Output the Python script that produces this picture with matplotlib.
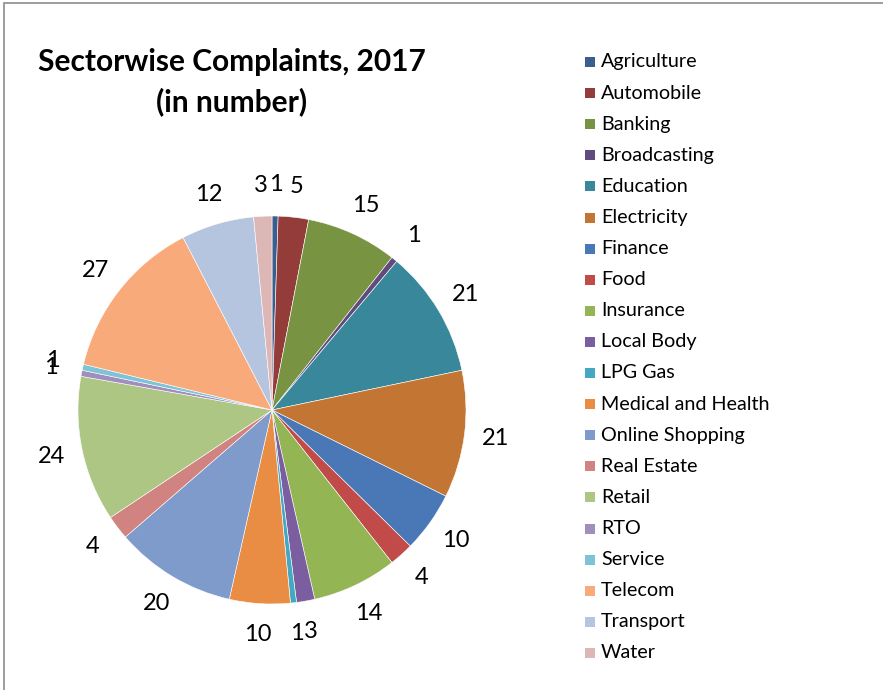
import matplotlib
matplotlib.use("Agg")
import matplotlib.pyplot as plt
from matplotlib.patches import Rectangle

sectors = ["Agriculture", "Automobile", "Banking", "Broadcasting", "Education",
           "Electricity", "Finance", "Food", "Insurance", "Local Body", "LPG Gas",
           "Medical and Health", "Online Shopping", "Real Estate", "Retail", "RTO",
           "Service", "Telecom", "Transport", "Water"]
complaints = [1, 5, 15, 1, 21, 21, 10, 4, 14, 3, 1, 10, 20, 4, 24, 1, 1, 27, 12, 3]
colors = ["#3A5F8F", "#943C3A", "#789443", "#614A7E", "#38879A", "#C37634",
          "#4A78B6", "#C04B48", "#93B554", "#7B5EA0", "#45A8C2", "#EA8D44",
          "#7F9BCB", "#D08381", "#ADC683", "#A08EBC", "#7EC3D7", "#F8AA7A",
          "#B5C4DF", "#DDB7B6"]

plt.rcParams["font.family"] = ["Lato", "DejaVu Sans"]

W, H = 883, 690
fig = plt.figure(figsize=(W / 100, H / 100), dpi=100)

# outer chart frame
fig.patches.append(Rectangle((4 / W, -0.1), 1.2, 1.1 - 3 / H, transform=fig.transFigure,
                             fill=False, edgecolor="#8C8C8C", linewidth=1.2))

cx, cy, r = 272, 410, 194
ax = fig.add_axes([(cx - r) / W, (H - cy - r) / H, 2 * r / W, 2 * r / H])
wedges, texts = ax.pie(complaints, colors=colors, startangle=90, counterclock=False,
                       labels=[str(v) for v in complaints], labeldistance=1.16,
                       wedgeprops=dict(edgecolor="white", linewidth=0.4),
                       textprops=dict(fontsize=17, color="black"))
for t in texts:
    t.set_horizontalalignment("center")
    t.set_verticalalignment("center")
ax.set_xlim(-1, 1)
ax.set_ylim(-1, 1)
ax.set_aspect("equal")
ax.axis("off")

fig.text(232 / W, 1 - 62 / H, "Sectorwise Complaints, 2017", ha="center", va="center",
         fontsize=21.5, fontweight="bold")
fig.text(232 / W, 1 - 102 / H, "(in number)", ha="center", va="center",
         fontsize=21.5, fontweight="bold")

# legend
y0, step = 62, 31.1
for i, (name, c) in enumerate(zip(sectors, colors)):
    y = y0 + i * step
    fig.patches.append(Rectangle((585 / W, 1 - (y + 5) / H), 10 / W, 10 / H,
                                 transform=fig.transFigure, facecolor=c, edgecolor="none"))
    fig.text(601 / W, 1 - y / H, name, ha="left", va="center", fontsize=14.2)

fig.savefig("out.png", dpi=100)
